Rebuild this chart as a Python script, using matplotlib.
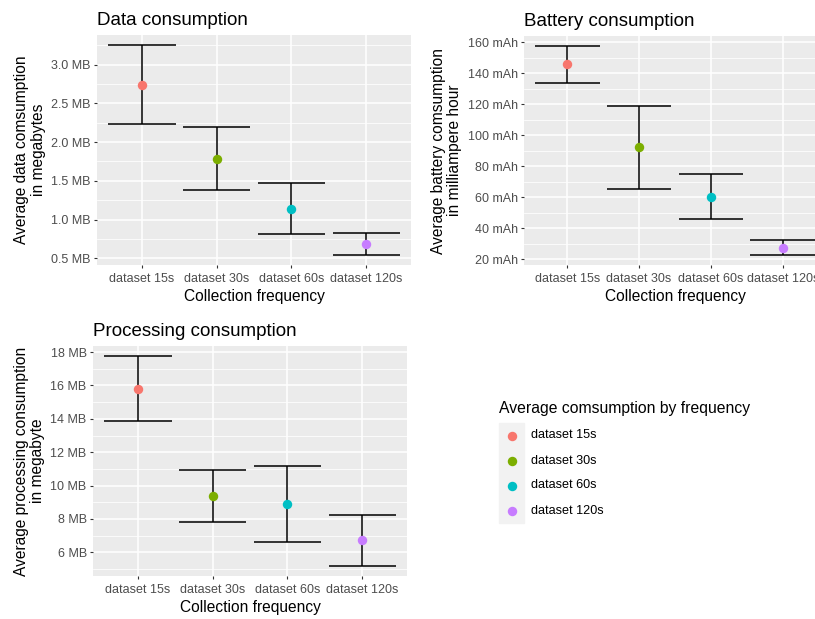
import matplotlib
matplotlib.use("Agg")
import matplotlib.pyplot as plt
from matplotlib.ticker import FixedLocator, FuncFormatter
import numpy as np

plt.rcParams['font.family'] = ['Liberation Sans', 'DejaVu Sans']

categories = ["dataset 15s", "dataset 30s", "dataset 60s", "dataset 120s"]
colors = ["#F8766D", "#7CAE00", "#00BFC4", "#C77CFF"]

data_mean = [2.74, 1.785, 1.14, 0.685]
data_low = [2.23, 1.38, 0.81, 0.548]
data_high = [3.247, 2.193, 1.47, 0.82]

batt_mean = [146.0, 92.5, 60.1, 27.2]
batt_low = [134.0, 65.5, 45.6, 22.9]
batt_high = [157.4, 119.1, 74.8, 32.2]

proc_mean = [15.81, 9.40, 8.87, 6.72]
proc_low = [13.88, 7.84, 6.60, 5.21]
proc_high = [17.74, 10.92, 11.18, 8.23]

W, H = 815, 619
fig = plt.figure(figsize=(W / 100, H / 100), dpi=100)


def px_axes(left, top, right, bottom):
    return fig.add_axes([left / W, 1 - bottom / H, (right - left) / W, (bottom - top) / H])


def panel(ax, title, ylabel, mean, low, high, majors, minors, fmt):
    x = np.arange(len(categories))
    ax.set_facecolor("#EBEBEB")
    for s in ax.spines.values():
        s.set_visible(False)
    lo, hi = min(low), max(high)
    pad = (hi - lo) * 0.05
    ax.set_ylim(lo - pad, hi + pad)
    ax.set_xlim(-0.6, len(categories) - 0.4)
    for m in minors:
        ax.axhline(m, color="white", lw=0.55, zorder=0)
    for m in majors:
        ax.axhline(m, color="white", lw=1.1, zorder=0)
    for xi in x:
        ax.axvline(xi, color="white", lw=1.1, zorder=0)
    for i in x:
        ax.vlines(i, low[i], high[i], color="black", lw=1.1, zorder=2)
        ax.hlines([low[i], high[i]], i - 0.45, i + 0.45, color="black", lw=1.1, zorder=2)
        ax.plot(i, mean[i], "o", color=colors[i], ms=6.8, mec="none", zorder=3)
    ax.set_xticks(x)
    ax.set_xticklabels(categories)
    ax.yaxis.set_major_locator(FixedLocator(majors))
    ax.yaxis.set_major_formatter(FuncFormatter(fmt))
    ax.tick_params(axis="both", length=2.5, width=0.8, color="#333333",
                   labelcolor="#4D4D4D", labelsize=9, pad=2)
    ax.tick_params(axis="x", pad=3)
    ax.set_xlabel("Collection frequency", fontsize=11.2, labelpad=3)
    ax.set_ylabel(ylabel, fontsize=11.2, labelpad=4, linespacing=1.12)
    ax.set_title(title, fontsize=13.5, loc="left", pad=7)
    ax.set_axisbelow(True)


ax1 = px_axes(97, 35, 411, 265)
panel(ax1, "Data consumption", "Average data comsumption\nin megabytes",
      data_mean, data_low, data_high,
      [0.5, 1.0, 1.5, 2.0, 2.5, 3.0], [0.75, 1.25, 1.75, 2.25, 2.75, 3.25],
      lambda v, p: f"{v:.1f} MB")

ax2 = px_axes(524, 36, 826, 265)
panel(ax2, "Battery consumption", "Average battery comsumption\nin milliampere hour",
      batt_mean, batt_low, batt_high,
      [20, 40, 60, 80, 100, 120, 140, 160], [30, 50, 70, 90, 110, 130, 150],
      lambda v, p: f"{v:.0f} mAh")

ax3 = px_axes(93, 346, 407, 576)
panel(ax3, "Processing consumption", "Average processing consumption\nin megabyte",
      proc_mean, proc_low, proc_high,
      [6, 8, 10, 12, 14, 16, 18], [5, 7, 9, 11, 13, 15, 17],
      lambda v, p: f"{v:.0f} MB")

# legend drawn in its own axes, pixel units
leg = px_axes(495, 395, 780, 530)
leg.set_xlim(495, 780)
leg.set_ylim(530, 395)
leg.axis("off")
leg.text(499, 409, "Average comsumption by frequency", fontsize=11.3, va="center", ha="left")
leg.add_patch(plt.Rectangle((499, 423), 25, 25 * len(categories), color="#F2F2F2", zorder=0))
for i, name in enumerate(categories):
    yk = 423 + 12.5 + 25 * i
    leg.plot(511.5, yk, "o", color=colors[i], ms=6.8, mec="none")
    leg.text(531, yk, name, fontsize=9.1, va="center", ha="left")

fig.savefig("out.png", dpi=100)
